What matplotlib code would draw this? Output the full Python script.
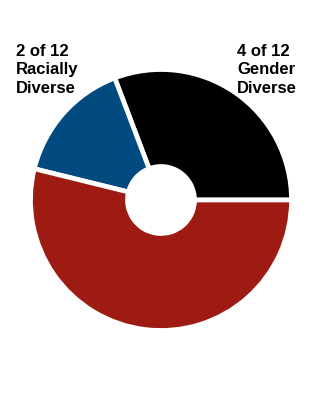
import matplotlib
matplotlib.use("Agg")
import matplotlib.pyplot as plt

# board composition (slice sizes as drawn)
labels = ["Gender Diverse", "Racially Diverse", "Other"]
values = [4, 2, 7]
colors = ["#000000", "#014a80", "#9e1b13"]

left_note = "2 of 12\nRacially\nDiverse"
right_note = "4 of 12\nGender\nDiverse"

plt.rcParams['font.family'] = ['Liberation Sans', 'DejaVu Sans']

fig = plt.figure(figsize=(3.22, 4.0), dpi=100)
ax = fig.add_axes([0, 0, 1, 1])
ax.axis('off')

R = 130.5
ax.pie(values, colors=colors, startangle=0, counterclock=True,
       center=(161, 200), radius=R,
       wedgeprops=dict(width=R - 33.5, edgecolor='white', linewidth=3.4))
ax.set_xlim(0, 322)
ax.set_ylim(0, 400)
ax.set_aspect('equal')

fig.text(16 / 322, 1 - 44 / 400, left_note, ha='left', va='top',
         fontsize=12, fontweight='bold', linespacing=1.28)
fig.text(237 / 322, 1 - 44 / 400, right_note, ha='left', va='top',
         fontsize=12, fontweight='bold', linespacing=1.28)

fig.savefig("out.png", dpi=100)
